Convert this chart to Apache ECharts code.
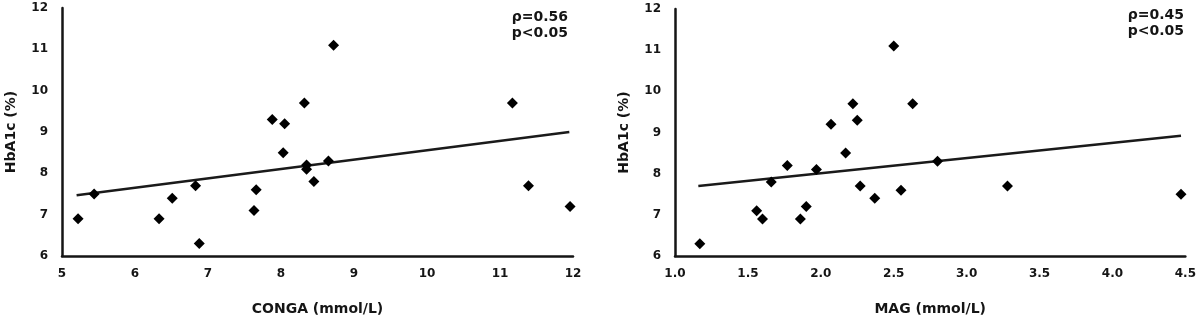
<!DOCTYPE html>
<html>
<head>
<meta charset="utf-8">
<script src="https://cdn.jsdelivr.net/npm/echarts@6/dist/echarts.min.js"></script>
<style>
  html, body { margin: 0; padding: 0; background: #fff; }
  #main { width: 1199px; height: 321px; }
</style>
</head>
<body>
<div id="main"></div>
<script>
// CONGA vs HbA1c
var congaPts = [
  [5.22, 6.9], [5.44, 7.5], [6.33, 6.9], [6.51, 7.4], [6.83, 7.7],
  [6.88, 6.3], [7.63, 7.1], [7.66, 7.6], [7.88, 9.3], [8.05, 9.2],
  [8.03, 8.5], [8.32, 9.7], [8.72, 11.1], [8.35, 8.2], [8.35, 8.1],
  [8.45, 7.8], [8.65, 8.3], [11.17, 9.7], [11.39, 7.7], [11.96, 7.2]
];
var congaTrend = [[5.2, 7.47], [11.95, 9.0]];

// MAG vs HbA1c
var magPts = [
  [1.17, 6.3], [1.56, 7.1], [1.60, 6.9], [1.66, 7.8], [1.77, 8.2],
  [1.86, 6.9], [1.90, 7.2], [1.97, 8.1], [2.07, 9.2], [2.17, 8.5],
  [2.22, 9.7], [2.25, 9.3], [2.27, 7.7], [2.37, 7.4], [2.50, 11.1],
  [2.63, 9.7], [2.55, 7.6], [2.80, 8.3], [3.28, 7.7], [4.47, 7.5]
];
var magTrend = [[1.16, 7.7], [4.47, 8.92]];

var statsLeft = 'ρ=0.56\np<0.05';
var statsRight = 'ρ=0.45\np<0.05';

var font = 'DejaVu Sans';
var ink = '#151515';

function xAx(idx, name, min, max, step, dec) {
  return {
    gridIndex: idx, type: 'value', min: min, max: max, interval: step,
    name: name, nameLocation: 'middle', nameGap: 46,
    nameTextStyle: { fontFamily: font, fontWeight: 'bold', fontSize: 14, color: ink },
    axisLine: { show: true, lineStyle: { color: ink, width: 2.5 } },
    axisTick: { show: false },
    splitLine: { show: false },
    axisLabel: { margin: 12, fontFamily: font, fontWeight: 'bold', fontSize: 12, color: ink,
      formatter: function (v) { return v.toFixed(dec); } }
  };
}
function yAx(idx) {
  return {
    gridIndex: idx, type: 'value', min: 6, max: 12, interval: 1,
    name: 'HbA1c (%)', nameLocation: 'middle', nameRotate: 90, nameGap: 44,
    nameTextStyle: { fontFamily: font, fontWeight: 'bold', fontSize: 14, color: ink },
    axisLine: { show: true, lineStyle: { color: ink, width: 2.5 } },
    axisTick: { show: false },
    splitLine: { show: false },
    axisLabel: { margin: 14, fontFamily: font, fontWeight: 'bold', fontSize: 12, color: ink }
  };
}

var chart = echarts.init(document.getElementById('main'));
chart.setOption({
  backgroundColor: '#fff',
  animation: false,
  grid: [
    { left: 62, top: 8, width: 511, height: 250 },
    { left: 675, top: 9, width: 511, height: 250 }
  ],
  xAxis: [
    xAx(0, 'CONGA (mmol/L)', 5, 12, 1, 0),
    xAx(1, 'MAG (mmol/L)', 1, 4.5, 0.5, 1)
  ],
  yAxis: [yAx(0), yAx(1)],
  series: [
    { type: 'line', xAxisIndex: 0, yAxisIndex: 0, data: congaTrend, symbol: 'none',
      lineStyle: { color: '#1a1a1a', width: 2.5 }, z: 1 },
    { type: 'scatter', xAxisIndex: 0, yAxisIndex: 0, data: congaPts, symbol: 'diamond',
      symbolSize: 11, itemStyle: { color: '#000', opacity: 1 }, z: 2 },
    { type: 'line', xAxisIndex: 1, yAxisIndex: 1, data: magTrend, symbol: 'none',
      lineStyle: { color: '#1a1a1a', width: 2.5 }, z: 1 },
    { type: 'scatter', xAxisIndex: 1, yAxisIndex: 1, data: magPts, symbol: 'diamond',
      symbolSize: 11, itemStyle: { color: '#000', opacity: 1 }, z: 2 }
  ],
  graphic: [
    { type: 'text', x: 568, y: 9, style: { text: statsLeft, textAlign: 'right',
      font: 'bold 14px "DejaVu Sans"', fill: ink, lineHeight: 16 } },
    { type: 'text', x: 1184, y: 7, style: { text: statsRight, textAlign: 'right',
      font: 'bold 14px "DejaVu Sans"', fill: ink, lineHeight: 16 } }
  ]
});
</script>
</body>
</html>
